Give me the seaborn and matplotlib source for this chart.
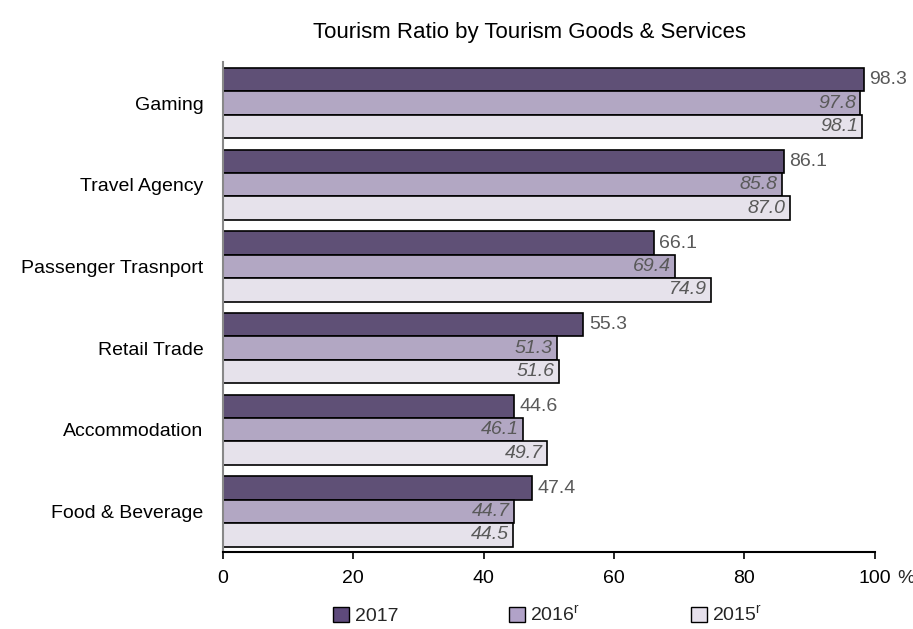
import matplotlib
matplotlib.use("Agg")
import matplotlib.pyplot as plt
from matplotlib import font_manager
import seaborn as sns
import pandas as pd
from matplotlib.patches import Patch

categories = ["Gaming", "Travel Agency", "Passenger Trasnport", "Retail Trade",
              "Accommodation", "Food & Beverage"]
years = ["2017", "2016$^{r}$", "2015$^{r}$"]
v2017 = [98.3, 86.1, 66.1, 55.3, 44.6, 47.4]
v2016 = [97.8, 85.8, 69.4, 51.3, 46.1, 44.7]
v2015 = [98.1, 87.0, 74.9, 51.6, 49.7, 44.5]
colors = ["#5e4a7c", "#b1a2c8", "#e6e0ec"]

df = pd.DataFrame({
    "category": categories * 3,
    "year": [years[0]] * 6 + [years[1]] * 6 + [years[2]] * 6,
    "value": v2017 + v2016 + v2015,
})

sns.set_theme(style="white")

# narrow font if one is around, else Liberation Sans (Arial metrics)
names = {f.name for f in font_manager.fontManager.ttflist}
narrow = [n for n in ["Liberation Sans Narrow", "DejaVu Sans Condensed"] if n in names]
fam = narrow[0] if narrow else "Liberation Sans"
plt.rcParams["font.family"] = [fam, "DejaVu Sans"]
plt.rcParams["mathtext.fontset"] = "custom"
plt.rcParams["mathtext.rm"] = fam
plt.rcParams["mathtext.default"] = "regular"

fig = plt.figure(figsize=(9.13, 6.29), dpi=100)
ax = fig.add_axes([0.244, 0.122, 0.714, 0.779])

sns.barplot(data=df, y="category", x="value", hue="year", order=categories,
            hue_order=years, palette=colors, orient="h", width=0.86,
            edgecolor="black", linewidth=1.2, ax=ax, legend=False)

for i, cont in enumerate(ax.containers):
    if i == 0:
        ax.bar_label(cont, fmt="%.1f", padding=4, color="#595959", fontsize=14)
    else:
        ax.bar_label(cont, fmt="%.1f", padding=-3, color="#595959",
                     fontsize=14, style="italic")
        for t in ax.texts[-6:]:
            t.set_ha("right")

ax.set_xlim(0, 100)
ax.set_xticks([0, 20, 40, 60, 80, 100])
ax.set_xlabel("")
ax.set_ylabel("")
ax.tick_params(axis="x", bottom=True, length=5, width=1.2, color="black",
               labelsize=14, pad=8, labelcolor="black")
ax.tick_params(axis="y", left=False, labelsize=14, pad=8, labelcolor="black")
for s in ["top", "right"]:
    ax.spines[s].set_visible(False)
ax.spines["left"].set_color("#888888")
ax.spines["left"].set_linewidth(1.5)
ax.spines["bottom"].set_color("black")
ax.spines["bottom"].set_linewidth(1.5)

fig.text(0.992, 0.067, "%", fontsize=14, ha="center", va="bottom")
fig.text(0.58, 0.948, "Tourism Ratio by Tourism Goods & Services", fontsize=16,
         ha="center", va="center", color="black")

handles = [Patch(facecolor=c, edgecolor="black", linewidth=1) for c in colors]
fig.legend(handles, years, loc="center", bbox_to_anchor=(0.6, 0.022), ncol=3,
           frameon=False, fontsize=14, handlelength=0.8, handleheight=0.8,
           handletextpad=0.3, columnspacing=5.7)

fig.savefig("out.png", dpi=100)
